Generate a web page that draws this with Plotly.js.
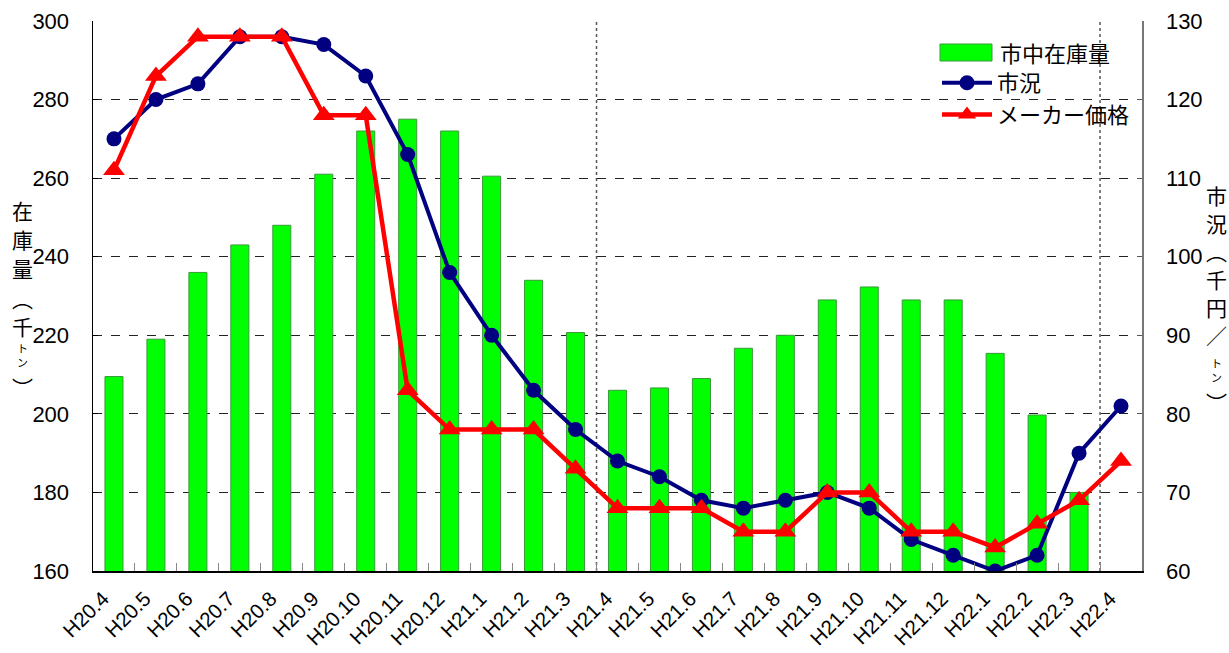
<!DOCTYPE html>
<html>
<head>
<meta charset="utf-8">
<script src="https://cdn.plot.ly/plotly-3.0.1.min.js"></script>
<style>html,body{margin:0;padding:0;background:#fff;}#chart{width:1229px;height:653px;}</style>
</head>
<body>
<div id="chart"></div>
<script>
var months = ['H20.4','H20.5','H20.6','H20.7','H20.8','H20.9','H20.10','H20.11','H20.12',
              'H21.1','H21.2','H21.3','H21.4','H21.5','H21.6','H21.7','H21.8','H21.9','H21.10','H21.11','H21.12',
              'H22.1','H22.2','H22.3','H22.4'];
var stock  = [209.5,219,236,243,248,261,272,275,272,260.5,234,220.7,206,206.6,209,216.7,220,229,232.3,229,229,215.4,199.7,180,null];
var market = [115,120,122,128,128,127,123,113,98,90,83,78,74,72,69,68,69,70,68,64,62,60,62,75,81];
var maker  = [111,123,128,128,128,118,118,83,78,78,78,73,68,68,68,65,65,70,70,65,65,63,66,69,74];
var seriesNames = ['市中在庫量','市況','メーカー価格'];
var fyStarts = ['H21.4','H22.4'];

var W = 1229, H = 653, ML = 93, MR = 87, MT = 21, MB = 82;
var PW = W - ML - MR, PH = H - MT - MB;
function px(x){ return (x - ML) / PW; }
function py(y){ return (H - MB - y) / PH; }

var JP = '"Liberation Sans", "Noto Sans CJK JP", sans-serif';
var BAR_FILL = '#00FF00', BAR_EDGE = '#3A9A3A';

var traces = [
  {type:'bar', name:seriesNames[0], x:months, y:stock, width:0.43, showlegend:false,
   marker:{color:BAR_FILL, line:{color:BAR_EDGE, width:1}}, yaxis:'y'},
  {type:'scatter', mode:'lines+markers', name:seriesNames[1], x:months, y:market, yaxis:'y2',
   line:{color:'#000080', width:4}, marker:{symbol:'circle', size:15, color:'#000080'}},
  {type:'scatter', mode:'lines+markers', name:seriesNames[2], x:months, y:maker, yaxis:'y2',
   line:{color:'#FF0000', width:4.5}, marker:{symbol:'triangle-up', size:19, color:'#FF0000'}}
];

var shapes = fyStarts.map(function(m){
  var i = months.indexOf(m) - 0.5;
  return {type:'line', xref:'x', yref:'paper', x0:i, x1:i, y0:0, y1:1,
          line:{color:'#555', width:1.5, dash:'dot'}, layer:'below'};
});
// legend swatch for the bar series (wide rectangle as in the reference)
shapes.push({type:'rect', xref:'paper', yref:'paper', x0:px(940), x1:px(992), y0:py(61), y1:py(44),
             fillcolor:BAR_FILL, line:{color:BAR_EDGE, width:1}, layer:'above'});

function ann(text, xpx, ypx, size, xanchor){
  return {text:text, xref:'paper', yref:'paper', x:px(xpx), y:py(ypx), xanchor:xanchor || 'center',
          yanchor:'middle', showarrow:false, borderpad:0,
          font:{family:'"Noto Sans CJK JP", sans-serif', size:size, color:'#000'}};
}

var annotations = [
  ann(seriesNames[0], 999, 52, 22, 'left'),
  ann('在', 22, 210, 21), ann('庫', 22, 239, 21), ann('量', 22, 268, 21),
  ann('︵', 22, 298, 21), ann('千', 22, 326, 21),
  ann('ト', 22, 348, 11), ann('ン', 22, 362, 11), ann('︶', 22, 387, 21),
  ann('市', 1216, 195, 21), ann('況', 1216, 223, 21), ann('︵', 1216, 251, 21),
  ann('千', 1216, 279, 21), ann('円', 1216, 307, 21), ann('／', 1216, 335, 21),
  ann('ト', 1216, 363, 11), ann('ン', 1216, 377, 11), ann('︶', 1216, 402, 21)
];

var layout = {
  width:W, height:H,
  margin:{l:ML, r:MR, t:MT, b:MB, pad:0},
  paper_bgcolor:'#fff', plot_bgcolor:'#fff',
  font:{family:JP, color:'#000'},
  showlegend:true,
  legend:{x:px(937), y:py(62), xanchor:'left', yanchor:'top', bgcolor:'rgba(0,0,0,0)',
          font:{family:JP, size:22, color:'#000'}, itemwidth:50, tracegroupgap:0},
  xaxis:{type:'category', range:[-0.5, 24.5], showline:true, linecolor:'#000', linewidth:1.5,
         ticks:'inside', tickson:'boundaries', ticklen:8, tickcolor:'#888', tickwidth:1,
         tickangle:-45, tickfont:{family:JP, size:20.5, color:'#000'}, showgrid:false, zeroline:false,
         ticklabelstandoff:6, ticklabelshift:-11, fixedrange:true},
  yaxis:{range:[160,300], dtick:20, tick0:160, showgrid:true, griddash:'dash', gridcolor:'#222', gridwidth:1,
         showline:true, linecolor:'#000', linewidth:1.5, ticks:'inside', ticklen:5, tickcolor:'#000',
         tickfont:{family:JP, size:22, color:'#000'}, ticklabelstandoff:18, zeroline:false},
  yaxis2:{range:[60,130], dtick:10, tick0:60, overlaying:'y', side:'right', showgrid:false,
          showline:true, linecolor:'#777', linewidth:1.5, ticks:'inside', ticklen:5, tickcolor:'#555',
          tickfont:{family:JP, size:22, color:'#000'}, ticklabelstandoff:18, zeroline:false},
  shapes:shapes,
  annotations:annotations
};

Plotly.newPlot('chart', traces, layout, {displayModeBar:false, staticPlot:true});
</script>
</body>
</html>
